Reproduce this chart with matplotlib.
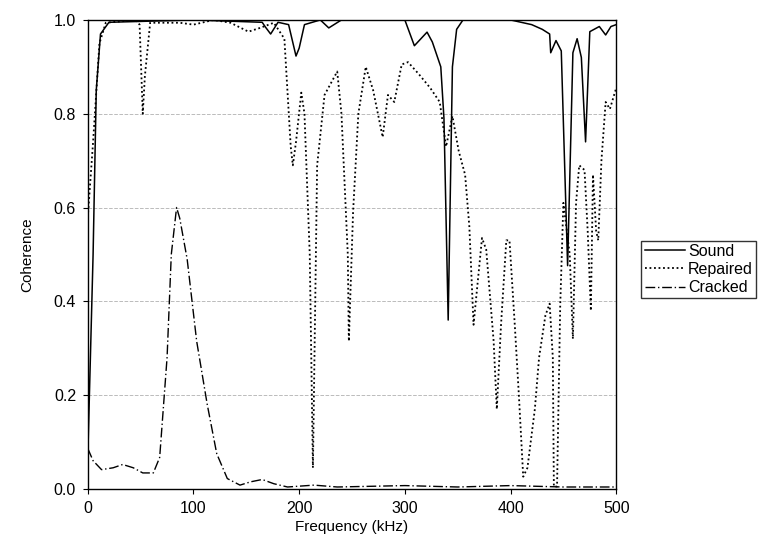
import matplotlib
matplotlib.use("Agg")
import matplotlib.pyplot as plt

plt.rcParams['font.family'] = ['Liberation Sans', 'DejaVu Sans']

sound_f = [0, 5, 8, 12, 20, 100, 165, 168, 173, 180, 190, 197, 200, 205, 220, 228, 240,
           300, 309, 321, 326, 334, 337, 341, 345, 349, 355, 400, 420, 430, 437, 438, 443,
           448, 454, 459, 463, 467, 471, 475, 484, 490, 495, 500]
sound_c = [0.07, 0.5, 0.85, 0.97, 0.995, 1.0, 0.995, 0.985, 0.97, 0.995, 0.99, 0.923, 0.94,
           0.99, 1.0, 0.983, 1.0, 1.0, 0.945, 0.974, 0.953, 0.9, 0.79, 0.36, 0.9, 0.98, 1.0,
           1.0, 0.99, 0.98, 0.97, 0.93, 0.956, 0.934, 0.476, 0.93, 0.96, 0.92, 0.74, 0.975,
           0.986, 0.968, 0.986, 0.99]

repaired_f = [0, 5, 11, 17, 45, 49, 52, 54, 59, 87, 100, 119, 135, 152, 163, 176, 186, 192,
              194, 197, 202, 205, 210, 213, 217, 224, 236, 240, 246, 247, 251, 256, 263, 270,
              279, 284, 290, 297, 303, 313, 324, 333, 339, 345, 351, 357, 361, 365, 373, 377,
              384, 387, 391, 396, 399, 404, 408, 412, 416, 423, 427, 433, 437, 440, 441, 444,
              447, 450, 456, 459, 462, 465, 470, 473, 476, 478, 481, 483, 486, 490, 494, 500]
repaired_c = [0.58, 0.74, 0.95, 0.994, 1.0, 0.99, 0.8, 0.88, 0.994, 0.994, 0.99, 1.0, 0.994,
              0.975, 0.983, 0.994, 0.96, 0.73, 0.69, 0.74, 0.845, 0.8, 0.5, 0.045, 0.69, 0.84,
              0.89, 0.8, 0.5, 0.315, 0.59, 0.8, 0.9, 0.85, 0.75, 0.84, 0.825, 0.905, 0.91,
              0.885, 0.855, 0.825, 0.73, 0.795, 0.72, 0.67, 0.56, 0.35, 0.535, 0.51, 0.315,
              0.17, 0.35, 0.53, 0.53, 0.35, 0.195, 0.026, 0.045, 0.17, 0.28, 0.37, 0.395, 0.28,
              0.005, 0.005, 0.39, 0.61, 0.5, 0.32, 0.61, 0.69, 0.68, 0.55, 0.38, 0.67, 0.55,
              0.53, 0.7, 0.825, 0.81, 0.855]

cracked_f = [0, 5, 13, 24, 33, 43, 52, 62, 68, 75, 79, 84, 87, 94, 103, 113, 122, 132, 144,
             154, 165, 176, 189, 214, 236, 300, 350, 400, 450, 500]
cracked_c = [0.086, 0.06, 0.041, 0.045, 0.052, 0.045, 0.034, 0.034, 0.067, 0.28, 0.5, 0.6,
             0.577, 0.49, 0.315, 0.18, 0.075, 0.022, 0.008, 0.015, 0.02, 0.011, 0.004, 0.008,
             0.004, 0.007, 0.004, 0.007, 0.004, 0.004]

fig = plt.figure(figsize=(7.84, 5.39), dpi=100)
ax = fig.add_axes([0.112, 0.093, 0.674, 0.870])

ax.plot(sound_f, sound_c, color='black', lw=1.1, ls='-', label='Sound')
ax.plot(repaired_f, repaired_c, color='black', lw=1.3, ls=(0, (1, 1.5)), label='Repaired')
ax.plot(cracked_f, cracked_c, color='black', lw=1.0, ls=(0, (7, 2, 1, 2)), label='Cracked')

ax.set_xlim(0, 500)
ax.set_ylim(0, 1.0)
ax.set_xticks([0, 100, 200, 300, 400, 500])
ax.set_yticks([0.0, 0.2, 0.4, 0.6, 0.8, 1.0])
ax.set_yticklabels(['0.0', '0.2', '0.4', '0.6', '0.8', '1.0'])
ax.tick_params(labelsize=11.5, direction='out', pad=5)
ax.grid(axis='y', color='#bbbbbb', ls='--', lw=0.7)
ax.set_xlabel('Frequency (kHz)', fontsize=11, labelpad=3)
ax.set_ylabel('Coherence', fontsize=11, labelpad=14)
for s in ax.spines.values():
    s.set_linewidth(1.0)

ax.legend(loc='center left', bbox_to_anchor=(0.808, 0.5), bbox_transform=fig.transFigure,
          frameon=True, fancybox=False, edgecolor='black', fontsize=11.5,
          handlelength=2.5, borderpad=0.2, labelspacing=0.2, handletextpad=0.2)

fig.savefig('out.png', dpi=100)
